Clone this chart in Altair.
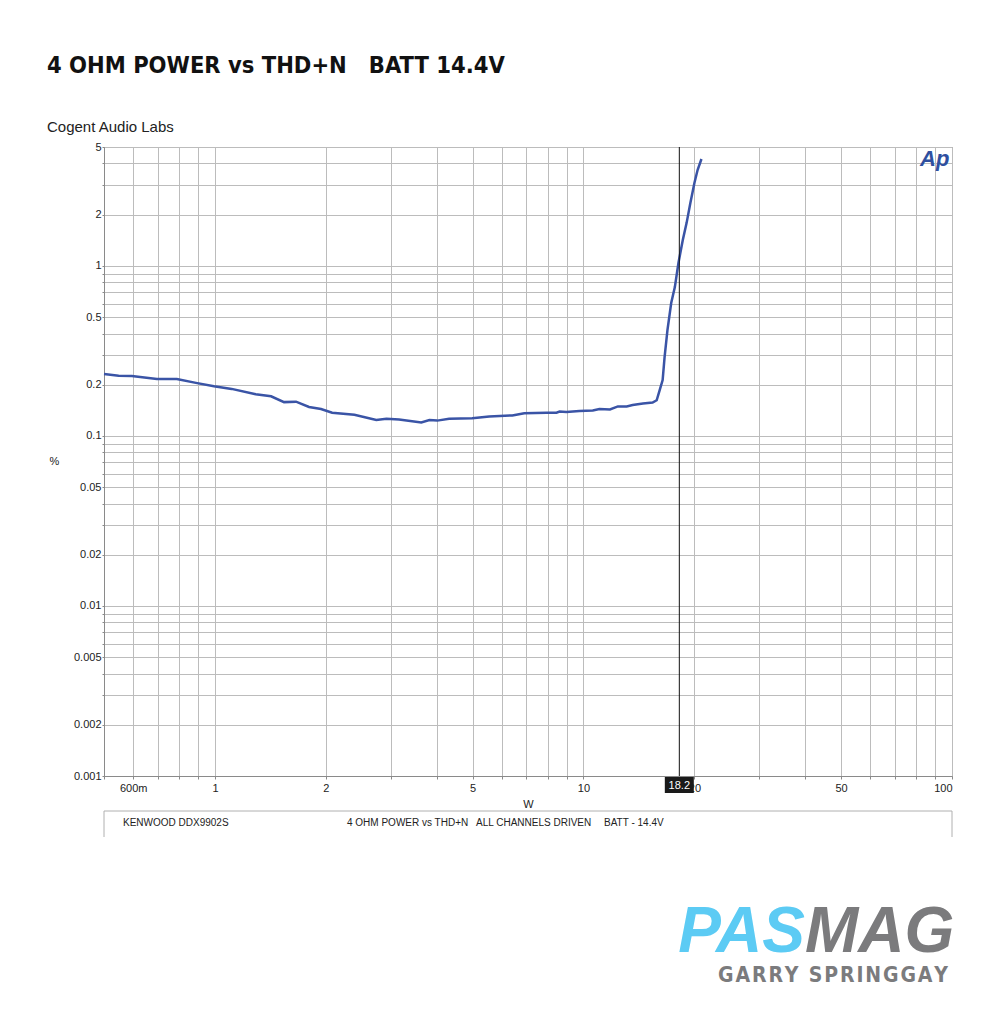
import altair as alt
import pandas as pd

# ---- data ----
power_w = [0.50, 0.548, 0.595, 0.696, 0.788, 0.888, 0.994, 1.11, 1.29, 1.42,
           1.54, 1.66, 1.80, 1.94, 2.08, 2.39, 2.74, 2.92, 3.16, 3.63,
           3.82, 4.01, 4.32, 4.99, 5.55, 6.41, 6.91, 7.94, 8.45, 8.61,
           8.99, 9.75, 10.6, 11.05, 11.8, 12.4, 13.1, 13.6, 14.5, 15.4,
           15.8, 16.1, 16.4, 16.6, 16.9, 17.3, 17.7, 18.1, 18.6, 19.05,
           19.5, 20.0, 20.4, 20.9]
thd_pct = [0.231, 0.226, 0.225, 0.216, 0.216, 0.205, 0.196, 0.189, 0.176, 0.171,
           0.158, 0.159, 0.148, 0.144, 0.137, 0.133, 0.124, 0.126, 0.125, 0.120,
           0.124, 0.123, 0.126, 0.127, 0.130, 0.132, 0.136, 0.137, 0.137, 0.139,
           0.138, 0.140, 0.141, 0.144, 0.143, 0.149, 0.149, 0.152, 0.155, 0.157,
           0.162, 0.186, 0.213, 0.291, 0.419, 0.604, 0.750, 1.04, 1.42, 1.79,
           2.34, 3.07, 3.66, 4.25]
cursor_w = [18.2]
cursor_label = ["18.2"]

x_grid = [0.5, 0.6, 0.7, 0.8, 0.9, 1, 2, 3, 4, 5, 6, 7, 8, 9,
          10, 20, 30, 40, 50, 60, 70, 80, 90, 100]
x_labels = [1, 2, 5, 10, 20, 50, 100]
y_grid = [0.001, 0.002, 0.003, 0.004, 0.005, 0.006, 0.007, 0.008, 0.009,
          0.01, 0.02, 0.03, 0.04, 0.05, 0.06, 0.07, 0.08, 0.09,
          0.1, 0.2, 0.3, 0.4, 0.5, 0.6, 0.7, 0.8, 0.9,
          1, 2, 3, 4, 5]
y_labels = [5, 2, 1, 0.5, 0.2, 0.1, 0.05, 0.02, 0.01, 0.005, 0.002, 0.001]

title_text = "4 OHM POWER vs THD+N\u00a0\u00a0\u00a0BATT 14.4V"
subtitle_text = "Cogent Audio Labs"
footer_texts = ["KENWOOD DDX9902S", "4 OHM POWER vs THD+N", "ALL CHANNELS DRIVEN", "BATT - 14.4V"]

W, H = 848, 629
FONT = "Liberation Sans"

df = pd.DataFrame({"W": power_w, "THD": thd_pct, "i": range(len(power_w))})

xscale = alt.Scale(type="log", domain=[0.5, 100], nice=False)
yscale = alt.Scale(type="log", domain=[0.001, 5], nice=False)

x_label_expr = ("datum.value == 0.6 ? '600m' : (indexof(%s, datum.value) >= 0 ? format(datum.value, '~g') : '')"
                % str(x_labels))
y_label_expr = ("indexof(%s, datum.value) >= 0 ? format(datum.value, '~g') : ''" % str(y_labels))

xaxis = alt.Axis(values=x_grid, labelExpr=x_label_expr, labelOverlap=False, labelFlush=True,
                 grid=True, gridColor="#bcbcbc", gridWidth=1, domainColor="#8a8a8a",
                 tickColor="#8a8a8a", tickSize=3, labelPadding=3, labelFont=FONT, labelFontSize=11,
                 labelColor="#222", title="W", titleFont=FONT, titleFontSize=11, titleFontWeight="normal",
                 titleColor="#222", titleX=424, titleY=28, titleBaseline="middle", titleAlign="center")
yaxis = alt.Axis(values=y_grid, labelExpr=y_label_expr, labelOverlap=False,
                 grid=True, gridColor="#bcbcbc", gridWidth=1, domainColor="#8a8a8a",
                 tickColor="#8a8a8a", tickSize=2, labelPadding=1, labelFont=FONT, labelFontSize=11,
                 labelColor="#222", title="%", titleFont=FONT, titleFontSize=11, titleFontWeight="normal",
                 titleColor="#222", titleAngle=0, titleX=-50, titleY=314, titleBaseline="middle",
                 titleAlign="center")

line = alt.Chart(df).mark_line(color="#3a54a6", strokeWidth=2.5).encode(
    x=alt.X("W:Q", scale=xscale, axis=xaxis),
    y=alt.Y("THD:Q", scale=yscale, axis=yaxis),
    order="i:Q",
)

cur = pd.DataFrame({"W": cursor_w, "lab": cursor_label})
cursor = alt.Chart(cur).mark_rule(color="#111", strokeWidth=1).encode(
    x=alt.X("W:Q", scale=xscale), y=alt.value(0), y2=alt.value(H))
cursor_box = alt.Chart(cur).mark_point(
    shape="M-1,-0.552L1,-0.552L1,0.552L-1,0.552Z", filled=True, fill="#1a1a1a",
    strokeWidth=0, opacity=1, size=841).encode(
    x=alt.X("W:Q", scale=xscale), y=alt.value(638))
cursor_txt = alt.Chart(cur).mark_text(color="white", font=FONT, fontSize=11, baseline="middle").encode(
    x=alt.X("W:Q", scale=xscale), y=alt.value(638.5), text="lab:N")

def txt(s, x, y, **kw):
    return alt.Chart(pd.DataFrame({"t": [s]})).mark_text(**kw).encode(
        text="t:N", x=alt.value(x), y=alt.value(y))

title = txt(title_text, -57, -74, font="DejaVu Sans Condensed", fontWeight="bold", fontSize=23.5,
            align="left", baseline="alphabetic", color="#111")
subtitle = txt(subtitle_text, -57, -15, font=FONT, fontSize=15, align="left",
               baseline="alphabetic", color="#222")
ap = txt("Ap", 816, 19, font=FONT, fontWeight="bold", fontStyle="italic", fontSize=22,
         align="left", baseline="alphabetic", color="#2e4fa0")

footer_x = [19, 243, 372, 500]
footers = [txt(s, fx, 676, font=FONT, fontSize=10, align="left", baseline="middle", color="#222")
           for s, fx in zip(footer_texts, footer_x)]

frame_top = alt.Chart(pd.DataFrame({"a": [0]})).mark_rule(color="#b0b0b0", strokeWidth=1).encode(
    x=alt.value(0), x2=alt.value(W), y=alt.value(664))
frame_l = alt.Chart(pd.DataFrame({"a": [0]})).mark_rule(color="#b0b0b0", strokeWidth=1).encode(
    x=alt.value(0), y=alt.value(664), y2=alt.value(690))
frame_r = alt.Chart(pd.DataFrame({"a": [0]})).mark_rule(color="#b0b0b0", strokeWidth=1).encode(
    x=alt.value(W), y=alt.value(664), y2=alt.value(690))

pas = txt("PAS", 701, 805, font=FONT, fontWeight="bold", fontStyle="italic", fontSize=64,
          align="right", baseline="alphabetic", color="#5ccbf4")
mag = txt("MAG", 701, 805, font=FONT, fontWeight="bold", fontStyle="italic", fontSize=64,
          align="left", baseline="alphabetic", color="#7b7b7d")
garry = txt("\u200a".join("GARRY SPRINGGAY"), 844, 835, font="DejaVu Sans Condensed",
            fontWeight="bold", fontSize=21, align="right", baseline="alphabetic", color="#7b7b7d")

chart = alt.layer(
    line, cursor, cursor_box, cursor_txt, title, subtitle, ap, *footers,
    frame_top, frame_l, frame_r, pas, mag, garry
).properties(
    width=W, height=H,
    padding={"left": 96, "top": 139, "right": 40, "bottom": 230},
    autosize=alt.AutoSizeParams(type="none"),
    background="white",
).configure_view(stroke="#8a8a8a", strokeWidth=1)

chart.save("out.html", embed_options={"renderer": "svg", "actions": False})
